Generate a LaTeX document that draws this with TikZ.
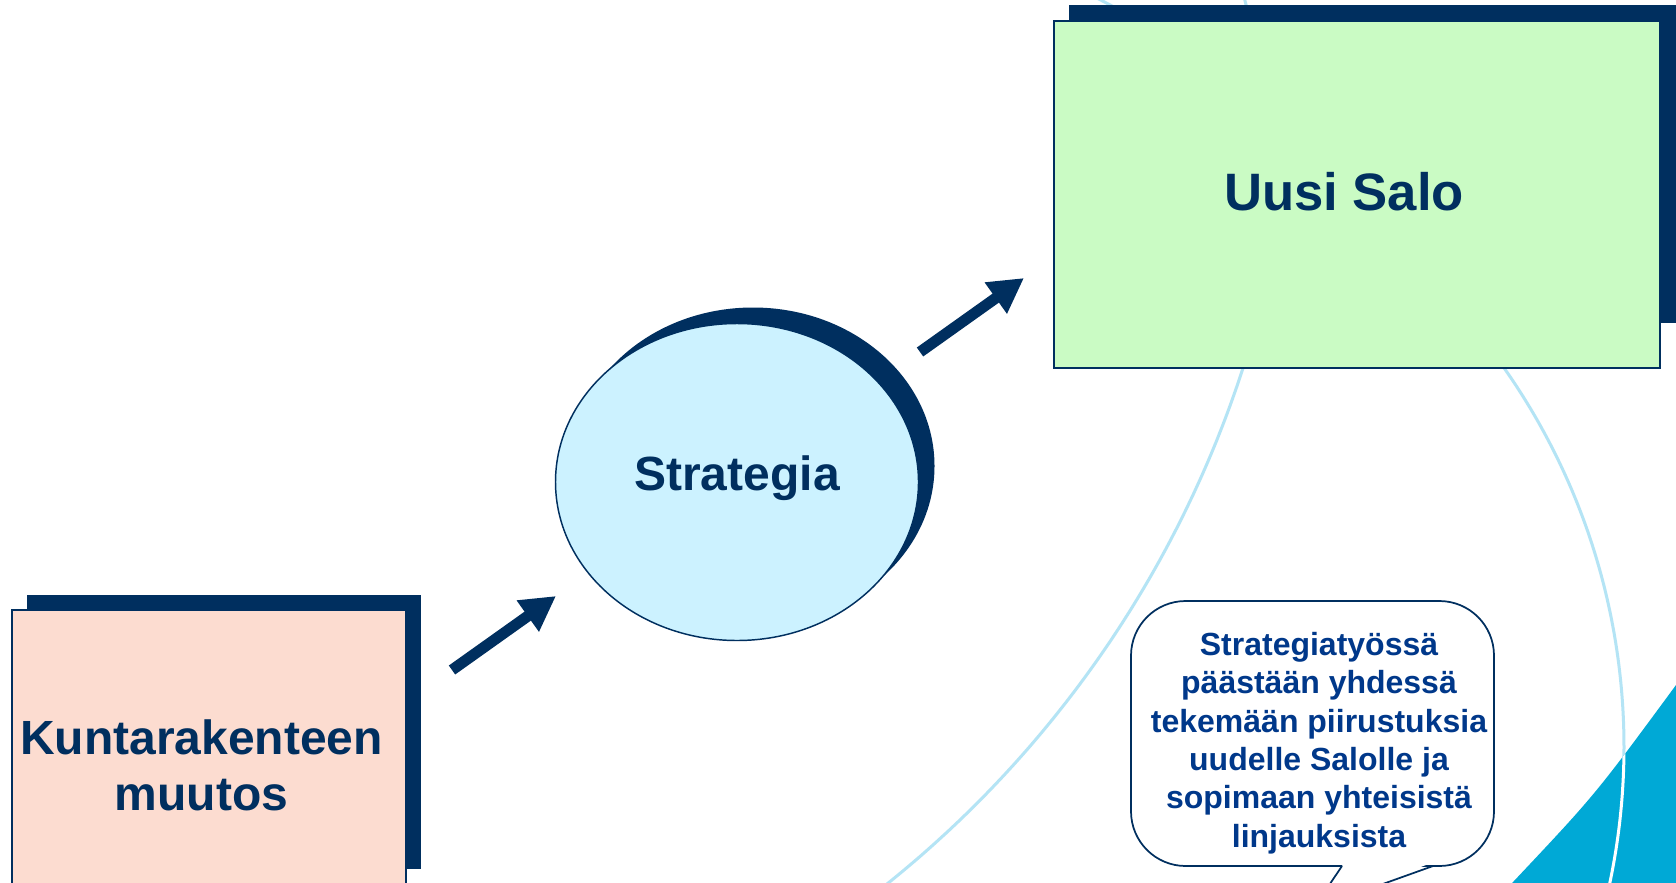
\documentclass[tikz,border=0pt]{standalone}
\usepackage{fontspec}
\setmainfont{Liberation Sans}
\usetikzlibrary{shapes.geometric,arrows.meta}
\definecolor{navy}{RGB}{0,47,95}
\definecolor{peach}{RGB}{252,220,208}
\definecolor{mint}{RGB}{202,251,196}
\definecolor{icefill}{RGB}{204,242,255}
\definecolor{textblue}{RGB}{0,56,138}
\definecolor{swooshline}{RGB}{180,228,245}
\definecolor{swoosh}{RGB}{0,169,214}
\begin{document}
\begin{tikzpicture}[x=0.75pt,y=-0.75pt,
  shadowbox/.style={fill=navy,draw=none,inner sep=0pt,outer sep=0pt},
  frontbox/.style={draw=navy,line width=1.1pt,inner sep=0pt,outer sep=0pt},
  bigtext/.style={font=\bfseries\fontsize{36}{42}\selectfont,text=navy,align=center,inner sep=0pt},
  calltext/.style={font=\bfseries\fontsize{24}{28.75}\selectfont,text=textblue,align=center,inner sep=0pt},
  fatarrow/.style={draw=navy,line width=8.25pt,-{Triangle[length=26pt,width=27pt]}},
  swline/.style={draw=swooshline,line width=2.25pt},
  calloutline/.style={draw=navy,line width=1.3pt}
]
\clip (0,0) rectangle (1676,882);
\fill[white] (0,0) rectangle (1676,882);

% background swoosh lines (arcs of large circles)
\draw[swline] (1244,-3) -- (1250,20);
\draw[swline] (1093,-4) -- (1135,18);
\draw[swline] plot[domain=10:56,samples=120,variable=\t] ({204+1092*cos(\t)},{32+1092*sin(\t)});
\draw[swline] plot[domain=-45:22,samples=120,variable=\t] ({965+659*cos(\t)},{747+659*sin(\t)});
\fill[swoosh] (1500,897) -- (1513,882) .. controls (1595,795) .. (1676,685) -- (1700,650) -- (1700,900) -- cycle;
\begin{scope}
  \clip (1500,897) -- (1513,882) .. controls (1595,795) .. (1676,685) -- (1700,650) -- (1700,900) -- cycle;
  \draw[white,line width=2.25pt] plot[domain=-45:22,samples=120,variable=\t] ({965+659*cos(\t)},{747+659*sin(\t)});
\end{scope}

% Kuntarakenteen muutos
\node[shadowbox,minimum width=295.5pt,minimum height=205.5pt] (kshadow) at (224,732) {};
\node[frontbox,fill=peach,minimum width=295.5pt,minimum height=205.5pt] (kbox) at (209,747) {};
\node[bigtext,anchor=base] (ktext) at (201.5,810) {Kuntarakenteen\\muutos};

% Strategia
\node[ellipse,shadowbox,minimum width=272.25pt,minimum height=237.75pt] (sshadow) at (753,466) {};
\node[ellipse,frontbox,fill=icefill,minimum width=272.25pt,minimum height=237.75pt] (sbox) at (737,482) {};
\node[bigtext,anchor=base] (stext) at (737,490.5) {Strategia};

% Uusi Salo
\node[shadowbox,minimum width=462pt,minimum height=238.5pt] (ushadow) at (1377,164) {};
\node[frontbox,fill=mint,minimum width=454.5pt,minimum height=260.25pt] (ubox) at (1357,194.5) {};
\node[bigtext,font=\bfseries\fontsize{39.5}{46}\selectfont,anchor=base] (utext) at (1344,210.5) {Uusi Salo};

% arrows
\coordinate (a1s) at (452,670);
\coordinate (a1e) at (556,596);
\coordinate (a2s) at (920,352);
\coordinate (a2e) at (1024,278);
\draw[fatarrow] (a1s) -- (a1e);
\draw[fatarrow] (a2s) -- (a2e);

% callout
\node[calloutline,fill=white,rounded corners=41pt,minimum width=272.25pt,minimum height=198.75pt,inner sep=0pt] (cbox) at (1312.5,733.5) {};
\coordinate (ctip) at (1313,909);
\coordinate (ctl) at (1342,866);
\coordinate (ctr) at (1433,866);
\fill[white] (1344,863) -- (1431,863) -- (ctip) -- cycle;
\draw[calloutline] (ctl) -- (ctip);
\draw[calloutline] (ctr) -- (ctip);
\node[calltext,anchor=base] (ctext) at (1319,847) {Strategiatyössä\\päästään yhdessä\\tekemään piirustuksia\\uudelle Salolle ja\\sopimaan yhteisistä\\linjauksista};
\end{tikzpicture}
\end{document}
